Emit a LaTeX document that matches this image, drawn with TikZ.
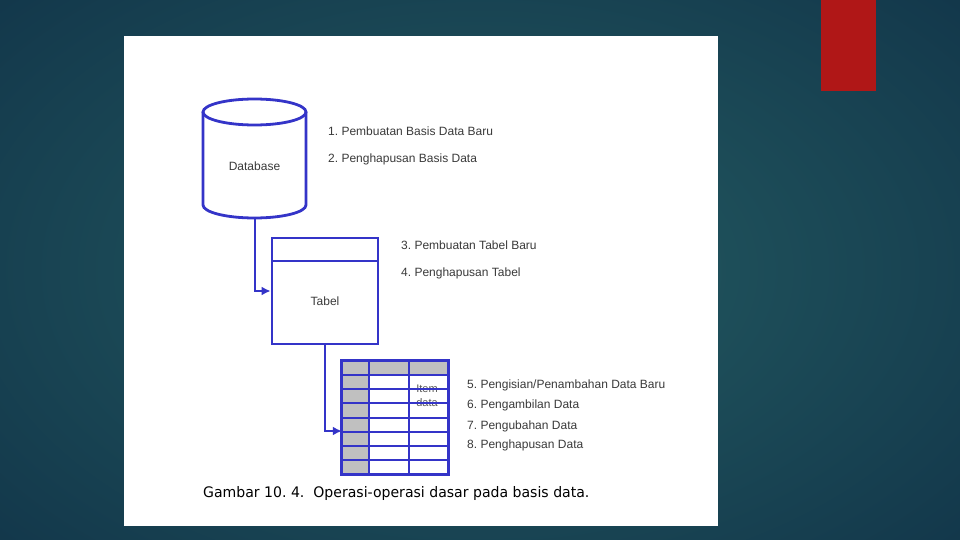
\documentclass[tikz,border=0pt]{standalone}
\usepackage{fontspec}
\setmainfont{Liberation Sans}
\newfontfamily\capfont{DejaVu Sans}
\usetikzlibrary{arrows.meta,calc}
\frenchspacing
\definecolor{bgin}{HTML}{245C62}
\definecolor{bgout}{HTML}{12364A}
\definecolor{slidered}{HTML}{B01717}
\definecolor{lineblue}{HTML}{3434C8}
\definecolor{cellgray}{HTML}{C0C0C0}
\definecolor{labelgray}{HTML}{3A3A3A}
\tikzset{
  blueline/.style={draw=lineblue, line width=2.8pt},
  gridline/.style={draw=lineblue, line width=2pt},
  conn/.style={draw=lineblue, line width=2.4pt, -{Latex[length=9pt,width=9pt]}},
  oplabel/.style={anchor=west, inner sep=0pt, text=labelgray, font=\fontsize{12}{14}\selectfont},
  boxlabel/.style={inner sep=0pt, text=labelgray, font=\fontsize{12}{14}\selectfont},
}
\begin{document}
\begin{tikzpicture}[x=1pt,y=-1pt]
\useasboundingbox (0,0) rectangle (960,540);
% background
\shade[inner color=bgin, outer color=bgout] (-200,-150) rectangle (1160,690);
\fill[slidered] (821,0) rectangle (876,91);
\fill[white] (124,36) rectangle (718,526);
% cylinder (database)
\draw[blueline] (203,112) -- (203,205) arc[start angle=180, end angle=360, x radius=51.5, y radius=-13] -- (306,112);
\draw[blueline] (254.5,112) ellipse[x radius=51.5, y radius=13];
\node[boxlabel] (db) at (254.5,166) {Database};
\coordinate (dbbot) at (255,218);
% table
\node[blueline, minimum width=106pt, minimum height=106pt, inner sep=0pt] (tabel) at (325,291) {};
\draw[draw=lineblue, line width=1.6pt] (272,261) -- (378,261);
\node[boxlabel] (tabellbl) at (325,301) {Tabel};
% grid
\node[minimum width=106pt, minimum height=113pt, inner sep=0pt] (grid) at (395,417.5) {};
\fill[cellgray] (342,361) rectangle (448,375.1);
\fill[cellgray] (342,361) rectangle (369,474);
\node[boxlabel, font=\fontsize{11}{12}\selectfont, text=labelgray!85] (item) at (427,389) {Item};
\node[boxlabel, font=\fontsize{11}{12}\selectfont, text=labelgray!85] (itemdata) at (427,403) {data};
\foreach \yy in {375.1,389.25,403.4,417.5,431.6,445.75,459.9}
  \draw[gridline] (342,\yy) -- (448,\yy);
\draw[gridline] (369,361) -- (369,474);
\draw[gridline] (408.5,361) -- (408.5,474);
\draw[blueline] (grid.north west) rectangle (grid.south east);
% connectors
\draw[conn] (dbbot) |- (tabel.west);
\draw[conn] (tabel.south) |- ([yshift=-13.5pt]grid.west);
% labels
\node[oplabel] (op1) at (328,131) {1. Pembuatan Basis Data Baru};
\node[oplabel] (op2) at (328,159) {2. Penghapusan Basis Data};
\node[oplabel] (op3) at (401,245) {3. Pembuatan Tabel Baru};
\node[oplabel] (op4) at (401,273) {4. Penghapusan Tabel};
\node[oplabel] (op5) at (467,385) {5. Pengisian/Penambahan Data Baru};
\node[oplabel] (op6) at (467,405) {6. Pengambilan Data};
\node[oplabel] (op7) at (467,426) {7. Pengubahan Data};
\node[oplabel] (op8) at (467,445) {8. Penghapusan Data};
% caption
\node[anchor=west, inner sep=0pt, font=\capfont\fontsize{14.5}{17}\selectfont, xscale=0.97] (caption) at (203,493) {Gambar 10. 4.\ \ Operasi-operasi dasar pada basis data.};
\end{tikzpicture}
\end{document}
